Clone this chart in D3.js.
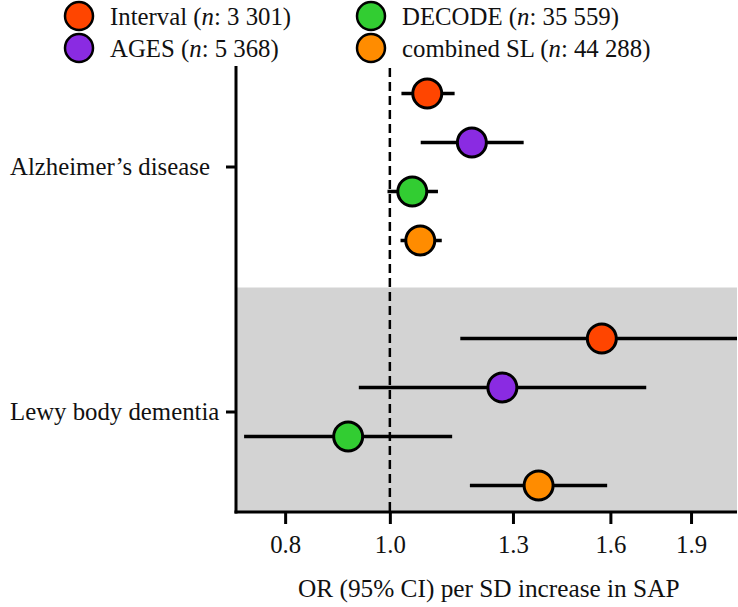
<!DOCTYPE html>
<html>
<head>
<meta charset="utf-8">
<script src="https://cdn.jsdelivr.net/npm/d3@7"></script>
<style>
  html, body { margin: 0; padding: 0; background: #fff; }
  svg { display: block; }
  text { font-family: "Liberation Serif", "DejaVu Serif", serif; fill: #111; }
</style>
</head>
<body>
<svg id="chart" width="738" height="607"></svg>
<script>
// ---- data ----
const categories = ["Alzheimer\u2019s disease", "Lewy body dementia"];
const series = ["Interval", "AGES", "DECODE", "combined SL"];
const seriesN = ["3 301", "5 368", "35 559", "44 288"];
const colors = ["#ff4500", "#8a2be2", "#32cd32", "#ff8c00"];
// odds ratios per category, series order as above
const orAD = [1.083, 1.191, 1.049, 1.067];
const loAD = [1.025, 1.068, 0.995, 1.023];
const hiAD = [1.148, 1.330, 1.108, 1.117];
const orLBD = [1.571, 1.271, 0.915, 1.373];
const loLBD = [1.162, 0.936, 0.733, 1.186];
const hiLBD = [2.30, 1.727, 1.142, 1.589];
const xTicks = [0.8, 1.0, 1.3, 1.6, 1.9];

(function () {
const rows = [];
[[orAD, loAD, hiAD], [orLBD, loLBD, hiLBD]].forEach((arr, ci) => {
  series.forEach((s, si) => {
    rows.push({cat: categories[ci], s, si, or: arr[0][si], lo: arr[1][si], hi: arr[2][si]});
  });
});

const svg = d3.select("#chart");
const pLeft = 236, pRight = 737, pTop = 66, pBottom = 512;

const x = d3.scaleLog().domain([0.722, 2.1]).range([237, 738]);
const y = d3.scaleBand().domain(categories).range([44.5, 534.5]).padding(0);
const yi = d3.scalePoint().domain(series).range([-73.5, 73.5]);
const cy = d => y(d.cat) + y.bandwidth() / 2 + yi(d.s);

svg.append("defs").append("clipPath").attr("id", "plotclip")
  .append("rect").attr("x", pLeft).attr("y", pTop).attr("width", pRight - pLeft).attr("height", pBottom - pTop);

// shaded band for second category
svg.append("rect")
  .attr("x", pLeft + 1).attr("y", y(categories[1]) - 2)
  .attr("width", pRight - pLeft - 1).attr("height", pBottom - y(categories[1]) + 2)
  .attr("fill", "#d3d3d3");

// reference line at OR = 1
svg.append("line")
  .attr("x1", x(1)).attr("x2", x(1)).attr("y1", pTop + 2).attr("y2", pBottom)
  .attr("stroke", "#000").attr("stroke-width", 2.5).attr("stroke-dasharray", "9,5");

const g = svg.append("g").attr("clip-path", "url(#plotclip)");
g.selectAll("line.ci").data(rows).join("line").attr("class", "ci")
  .attr("x1", d => x(d.lo)).attr("x2", d => x(d.hi))
  .attr("y1", cy).attr("y2", cy)
  .attr("stroke", "#000").attr("stroke-width", 3.5);
g.selectAll("circle.pt").data(rows).join("circle").attr("class", "pt")
  .attr("cx", d => x(d.or)).attr("cy", cy).attr("r", 14.5)
  .attr("fill", d => colors[d.si]).attr("stroke", "#000").attr("stroke-width", 3);

// axes
const xAxis = d3.axisBottom(x).tickValues(xTicks).tickFormat(d3.format(".1f")).tickSize(12).tickSizeOuter(0);
const gx = svg.append("g").attr("transform", `translate(0,${pBottom})`).call(xAxis);
gx.select(".domain").remove();
gx.selectAll(".tick line").attr("stroke", "#000").attr("stroke-width", 3);
gx.selectAll(".tick text").attr("font-size", 24.8).attr("dy", 0).attr("y", 41)
  .attr("font-family", "Liberation Serif").attr("fill", "#111");
svg.append("line").attr("x1", pLeft - 1.5).attr("x2", pRight).attr("y1", pBottom).attr("y2", pBottom)
  .attr("stroke", "#000").attr("stroke-width", 3);

const yAxis = d3.axisLeft(y).tickSize(10).tickSizeOuter(0);
const gy = svg.append("g").attr("transform", `translate(${pLeft},0)`).call(yAxis);
gy.select(".domain").remove();
gy.selectAll(".tick line").attr("stroke", "#000").attr("stroke-width", 3);
gy.selectAll(".tick text").attr("font-size", 24.8).attr("x", -226).attr("text-anchor", "start")
  .attr("dy", "0.32em").attr("font-family", "Liberation Serif").attr("fill", "#111");
svg.append("line").attr("x1", pLeft).attr("x2", pLeft).attr("y1", pTop).attr("y2", pBottom + 1.5)
  .attr("stroke", "#000").attr("stroke-width", 3);

// x title
svg.append("text").attr("x", 298).attr("y", 597).attr("font-size", 25.3)
  .text("OR (95% CI) per SD increase in SAP");

// legend
const legX = [79, 371], legY = [16, 48];
series.forEach((s, i) => {
  const col = i === 0 || i === 1 ? 0 : 1;
  const row = i === 0 || i === 2 ? 0 : 1;
  const lg = svg.append("g").attr("transform", `translate(${legX[col]},${legY[row]})`);
  lg.append("circle").attr("r", 14).attr("fill", colors[i]).attr("stroke", "#000").attr("stroke-width", 2.5);
  const t = lg.append("text").attr("x", 31).attr("y", 9).attr("font-size", 24.8);
  t.append("tspan").text(s + " (");
  t.append("tspan").attr("font-style", "italic").text("n");
  t.append("tspan").text(": " + seriesN[i] + ")");
});
})();
</script>
</body>
</html>
